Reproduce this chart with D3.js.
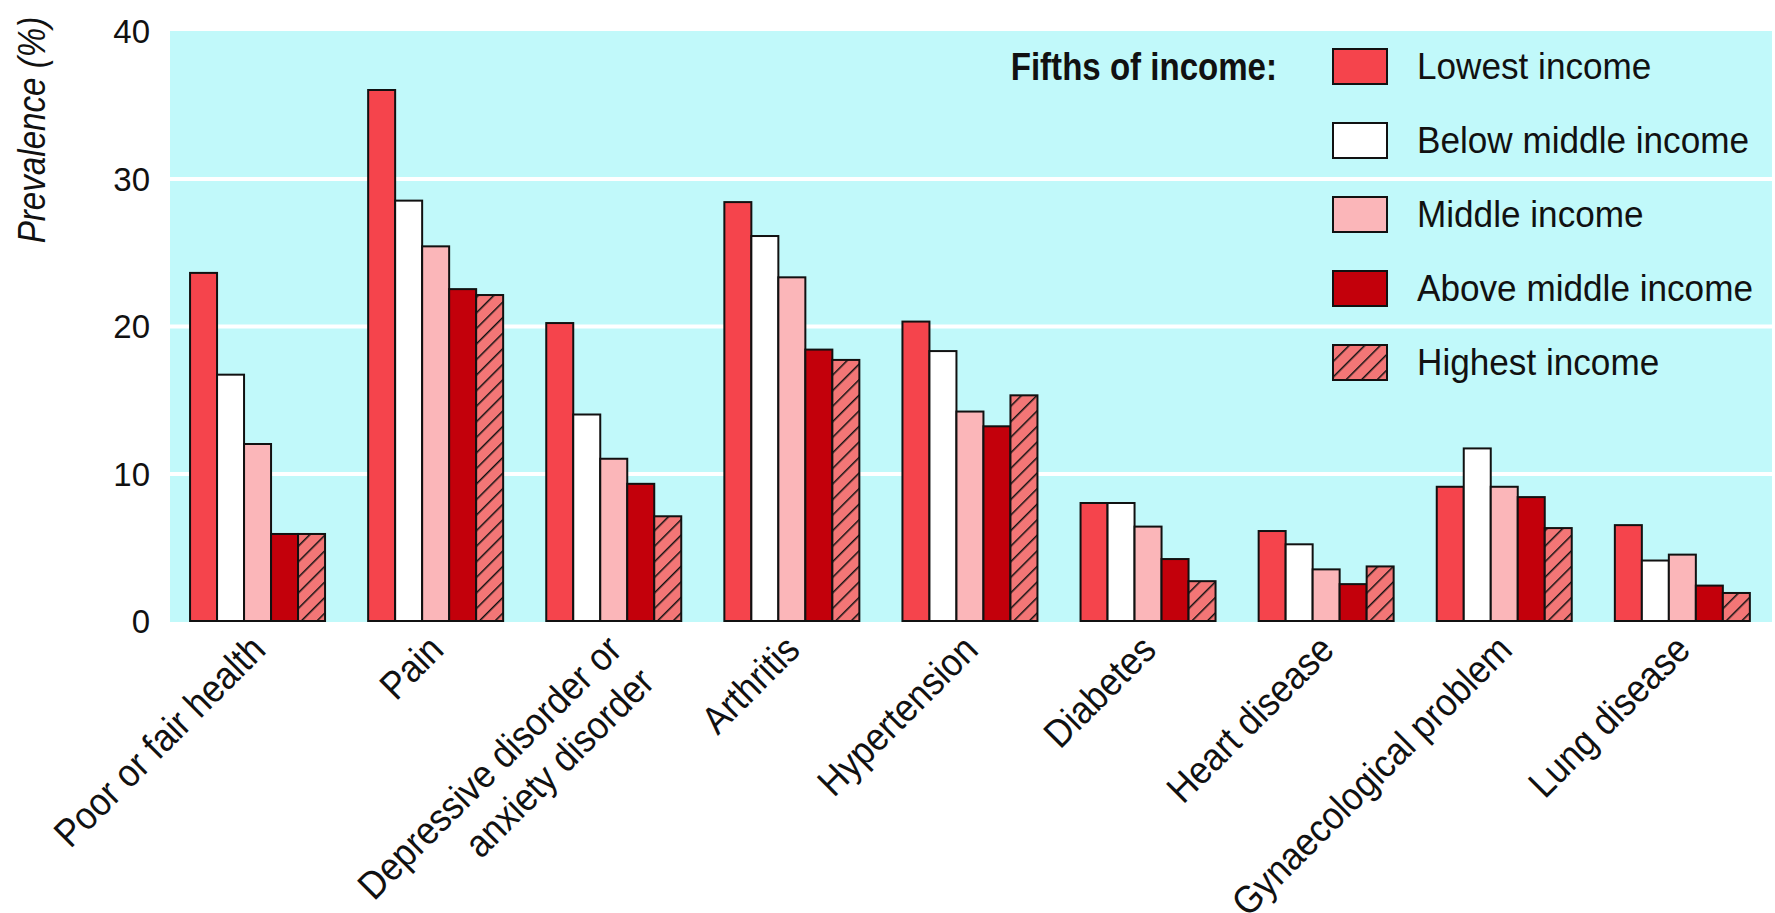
<!DOCTYPE html>
<html lang="en">
<script src="https://d3js.org/d3.v7.min.js"></script>
<style>
    body {margin: 0; background: #fff;}
    svg text {font-family: "Liberation Sans", Arial, sans-serif; fill: #111;}
    .bar rect {stroke: #111; stroke-width: 2;}
    .grid line {stroke: #fff; stroke-width: 4;}
    .grid path, .yaxis path {display: none;}
    .yaxis text {font-size: 33px;}
    .xlab text {font-size: 39px;}
    .legend text {font-size: 37px;}
</style>
<body>
    <svg width="1775" height="913"></svg>
</body>
<script>
    var categories = ["Poor or fair health", "Pain", "Depressive disorder or\nanxiety disorder", "Arthritis",
        "Hypertension", "Diabetes", "Heart disease", "Gynaecological problem", "Lung disease"];
    var series = ["Lowest income", "Below middle income", "Middle income", "Above middle income", "Highest income"];
    var lowest      = [23.6, 36.0, 20.2, 28.4, 20.3, 8.0, 6.1, 9.1, 6.5];
    var belowMiddle = [16.7, 28.5, 14.0, 26.1, 18.3, 8.0, 5.2, 11.7, 4.1];
    var middle      = [12.0, 25.4, 11.0, 23.3, 14.2, 6.4, 3.5, 9.1, 4.5];
    var aboveMiddle = [5.9, 22.5, 9.3, 18.4, 13.2, 4.2, 2.5, 8.4, 2.4];
    var highest     = [5.9, 22.1, 7.1, 17.7, 15.3, 2.7, 3.7, 6.3, 1.9];
    var yTicks = [0, 10, 20, 30, 40];
    var gridTicks = [10, 20, 30];

    var values = [lowest, belowMiddle, middle, aboveMiddle, highest];
    var fills = ["#f5444c", "#ffffff", "#fbb6b9", "#c3000b", "url(#hatch)"];

    var svg = d3.select("svg");
    var plotLeft = 170, plotRight = 1772, plotTop = 31, plotBottom = 621;

    var defs = svg.append("defs");
    var pat = defs.append("pattern").attr("id", "hatch").attr("patternUnits", "userSpaceOnUse")
        .attr("width", 11).attr("height", 11).attr("patternTransform", "rotate(45)");
    pat.append("rect").attr("width", 11).attr("height", 11).attr("fill", "#f37676");
    pat.append("line").attr("x1", 0).attr("y1", 0).attr("x2", 0).attr("y2", 11)
        .attr("stroke", "#111").attr("stroke-width", 3);

    var x = d3.scaleBand().domain(categories).range([168.5, 1771.4]).paddingInner(0.242).paddingOuter(0.121);
    var x1 = d3.scaleBand().domain(series).range([0, x.bandwidth()]);
    var y = d3.scaleLinear().domain([0, 40]).range([plotBottom, plotTop]);

    // background
    svg.append("rect").attr("x", plotLeft).attr("y", plotTop)
        .attr("width", plotRight - plotLeft).attr("height", plotBottom - plotTop + 1)
        .attr("fill", "#c1f9fa");

    svg.append("g").attr("class", "grid").attr("transform", "translate(" + plotLeft + ",0)")
        .call(d3.axisLeft(y).tickValues(gridTicks).tickSize(-(plotRight - plotLeft)).tickFormat(""));

    var yAxis = svg.append("g").attr("class", "yaxis").attr("transform", "translate(" + plotLeft + ",0)")
        .call(d3.axisLeft(y).tickValues(yTicks).tickSize(0).tickPadding(20));
    yAxis.selectAll("text").attr("dy", "0.36em");

    svg.append("text").attr("transform", "translate(45,130) rotate(-90) scale(0.85,1)")
        .attr("text-anchor", "middle").style("font-size", "39px").style("font-style", "italic")
        .text("Prevalence (%)");

    // bars
    var groups = svg.selectAll(".bar").data(categories).enter().append("g").attr("class", "bar")
        .attr("transform", function(d){ return "translate(" + x(d) + ",0)"; });

    groups.selectAll("rect").data(function(d, i){
        return series.map(function(s, j){ return {s: s, v: values[j][i], j: j}; });
    }).enter().append("rect")
        .attr("x", function(d){ return x1(d.s); })
        .attr("y", function(d){ return y(d.v); })
        .attr("width", x1.bandwidth())
        .attr("height", function(d){ return y(0) - y(d.v); })
        .attr("fill", function(d){ return fills[d.j]; });

    // category labels
    var xlab = svg.append("g").attr("class", "xlab");
    categories.forEach(function(c){
        var t = xlab.append("text").attr("text-anchor", "end")
            .attr("transform", "translate(" + (x(c) + x.bandwidth() / 2 + 10) + "," + (plotBottom + 31) + ") rotate(-45) scale(0.9,1)");
        c.split("\n").forEach(function(line, k){
            t.append("tspan").attr("x", 0).attr("dy", k ? "1.18em" : 0).text(line);
        });
    });

    // legend
    var legend = svg.append("g").attr("class", "legend");
    legend.append("text").attr("transform", "translate(1277,80) scale(0.87,1)").attr("text-anchor", "end")
        .style("font-weight", "bold").style("font-size", "38px").text("Fifths of income:");
    var item = legend.selectAll(".item").data(series).enter().append("g").attr("class", "item")
        .attr("transform", function(d, i){ return "translate(1333," + (49 + i * 74) + ")"; });
    item.append("rect").attr("width", 54).attr("height", 35)
        .attr("fill", function(d, i){ return fills[i]; })
        .attr("stroke", "#111").attr("stroke-width", 2);
    item.append("text").attr("transform", "translate(84,30) scale(0.95,1)").text(function(d){ return d; });
</script>
</html>
